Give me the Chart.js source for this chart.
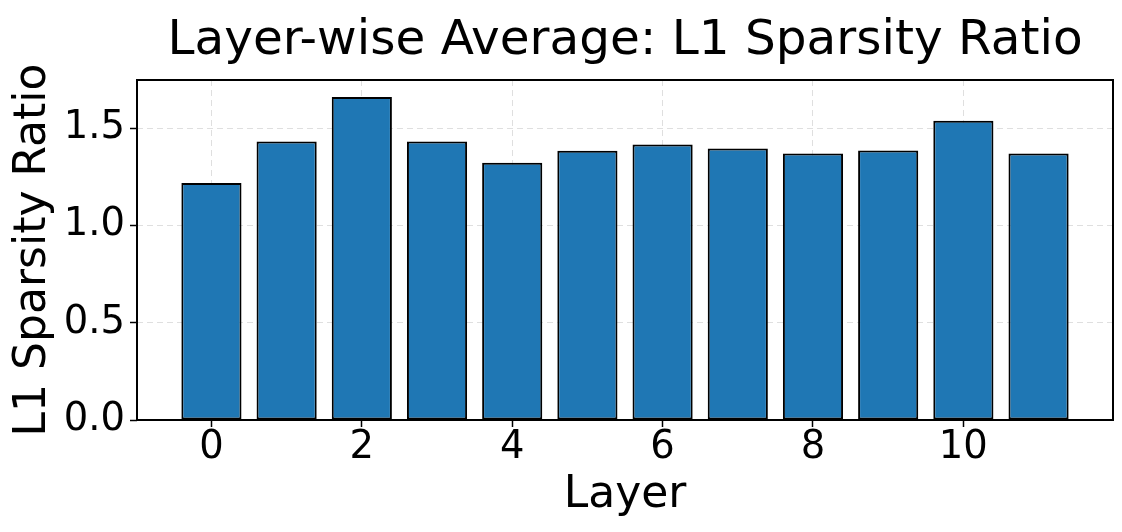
<!DOCTYPE html>
<html>
<head>
<meta charset="utf-8">
<script src="https://cdn.jsdelivr.net/npm/chart.js@4.4.1/dist/chart.umd.min.js"></script>
<style>
  html, body { margin: 0; padding: 0; background: #fff; }
  #wrap { width: 1122px; height: 532px; }
</style>
</head>
<body>
<div id="wrap"><canvas id="layerChart" width="1122" height="532"></canvas></div>
<script>
// data
const layers = [0, 1, 2, 3, 4, 5, 6, 7, 8, 9, 10, 11];
const sparsityRatio = [1.219, 1.432, 1.661, 1.432, 1.323, 1.384, 1.416, 1.396, 1.370, 1.386, 1.539, 1.370];
const xTicks = [0, 2, 4, 6, 8, 10];
const yTicks = [0, 0.5, 1.0, 1.5];
const chartTitle = "Layer-wise Average: L1 Sparsity Ratio";
const xLabel = "Layer";
const yLabel = "L1 Sparsity Ratio";

const FONT = "'DejaVu Sans', 'Liberation Sans', sans-serif";
const gridColor = "rgba(176, 176, 176, 0.4)";

// title centred over the plot area (like matplotlib)
const titlePlugin = {
  id: "centredTitle",
  afterDraw(chart) {
    const { ctx, chartArea } = chart;
    ctx.save();
    ctx.font = "48.5px " + FONT;
    ctx.fillStyle = "#000";
    ctx.textAlign = "center";
    ctx.textBaseline = "alphabetic";
    ctx.fillText(chartTitle, (chartArea.left + chartArea.right) / 2, 53.5);
    ctx.restore();
  },
};

// black frame round the axes
const framePlugin = {
  id: "axesFrame",
  afterDraw(chart) {
    const { ctx, chartArea } = chart;
    ctx.save();
    ctx.strokeStyle = "#000";
    ctx.lineWidth = 2;
    ctx.strokeRect(
      chartArea.left,
      chartArea.top,
      chartArea.right - chartArea.left,
      chartArea.bottom - chartArea.top
    );
    ctx.restore();
  },
};

const ctx = document.getElementById("layerChart").getContext("2d");
new Chart(ctx, {
  type: "bar",
  data: {
    datasets: [
      {
        label: yLabel,
        data: layers.map((l, i) => ({ x: l, y: sparsityRatio[i] })),
        backgroundColor: "#1f77b4",
        borderColor: "#000",
        borderWidth: 2,
        borderSkipped: false,
        barPercentage: 0.8,
        categoryPercentage: 1,
      },
    ],
  },
  options: {
    responsive: false,
    devicePixelRatio: 1,
    animation: false,
    layout: { padding: { top: 80, right: 9, bottom: 0, left: 0 } },
    plugins: {
      legend: { display: false },
      tooltip: { enabled: false },
      title: { display: false },
    },
    scales: {
      x: {
        type: "linear",
        offset: false,
        min: -0.99,
        max: 11.99,
        z: 1,
        afterBuildTicks: (scale) => {
          scale.ticks = xTicks.map((v) => ({ value: v }));
        },
        afterFit: (scale) => {
          scale.height = 112;
        },
        border: { display: false, dash: [6, 4] },
        grid: {
          offset: false,
          color: gridColor,
          lineWidth: 1,
          tickColor: "#000",
          tickWidth: 1.5,
          tickLength: 7,
          tickBorderDash: [],
        },
        ticks: {
          color: "#000",
          padding: 0,
          maxRotation: 0,
          font: { family: FONT, size: 38.5, lineHeight: 1.1 },
          callback: (v) => String(v),
        },
        title: {
          display: true,
          text: xLabel,
          color: "#000",
          font: { family: FONT, size: 44, lineHeight: 1.2 },
          padding: { top: 0, bottom: 10 },
        },
      },
      y: {
        min: 0,
        max: 1.748,
        z: 1,
        afterBuildTicks: (scale) => {
          scale.ticks = yTicks.map((v) => ({ value: v }));
        },
        afterFit: (scale) => {
          scale.width = 137;
        },
        border: { display: false, dash: [6, 4] },
        grid: {
          color: gridColor,
          lineWidth: 1,
          tickColor: "#000",
          tickWidth: 1.5,
          tickLength: 7,
          tickBorderDash: [],
        },
        ticks: {
          color: "#000",
          padding: 5,
          font: { family: FONT, size: 38.5, lineHeight: 1.1 },
          callback: (v) => v.toFixed(1),
        },
        title: {
          display: true,
          text: yLabel,
          color: "#000",
          font: { family: FONT, size: 44, lineHeight: 1.2 },
          padding: { top: 7, bottom: 0 },
        },
      },
    },
  },
  plugins: [titlePlugin, framePlugin],
});
</script>
</body>
</html>
